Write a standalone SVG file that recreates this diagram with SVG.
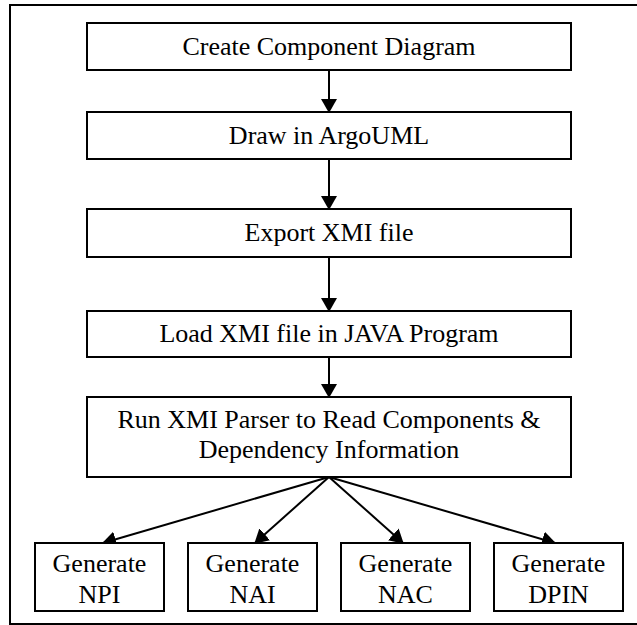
<svg xmlns="http://www.w3.org/2000/svg" width="637" height="625" viewBox="0 0 637 625">
  <style>
    .box { fill: #ffffff; stroke: #000000; stroke-width: 2; }
    .label { font-family: "Liberation Serif", "Times New Roman", serif; font-size: 26px; fill: #000000; text-anchor: middle; }
    .edge { fill: none; stroke: #000000; stroke-width: 2; marker-end: url(#arrow); }
  </style>
  <defs>
    <marker id="arrow" viewBox="0 0 14 16" refX="13" refY="8" markerWidth="14" markerHeight="16" markerUnits="userSpaceOnUse" orient="auto">
      <path d="M0,0 L14,8 L0,16 z" fill="#000000"/>
    </marker>
  </defs>

  <!-- outer frame -->
  <rect id="frame" x="10" y="5" width="640" height="619" fill="#ffffff" stroke="#000000" stroke-width="2"/>

  <!-- connectors -->
  <g id="connectors">
    <line class="edge" x1="329" y1="70" x2="329" y2="112"/>
    <line class="edge" x1="329" y1="159" x2="329" y2="209"/>
    <line class="edge" x1="329" y1="257" x2="329" y2="311"/>
    <line class="edge" x1="329" y1="357" x2="329" y2="397"/>
    <line class="edge" x1="329" y1="477" x2="103" y2="543"/>
    <line class="edge" x1="329" y1="477" x2="255" y2="543"/>
    <line class="edge" x1="329" y1="477" x2="403" y2="543"/>
    <line class="edge" x1="329" y1="477" x2="555" y2="543"/>
  </g>

  <g id="create">
    <rect class="box" x="87" y="23" width="484" height="47"/>
    <text class="label" x="329" y="55">Create Component Diagram</text>
  </g>

  <g id="draw">
    <rect class="box" x="87" y="112" width="484" height="47"/>
    <text class="label" x="329" y="144">Draw in ArgoUML</text>
  </g>

  <g id="export">
    <rect class="box" x="87" y="209" width="484" height="48"/>
    <text class="label" x="329" y="241">Export XMI file</text>
  </g>

  <g id="load">
    <rect class="box" x="87" y="311" width="484" height="46"/>
    <text class="label" x="329" y="342">Load XMI file in JAVA Program</text>
  </g>

  <g id="parse">
    <rect class="box" x="87" y="397" width="484" height="80"/>
    <text class="label" x="329" y="428">Run XMI Parser to Read Components &amp;</text>
    <text class="label" x="329" y="458">Dependency Information</text>
  </g>

  <g id="npi">
    <rect class="box" x="35" y="543" width="129" height="68"/>
    <text class="label" x="99.5" y="572">Generate</text>
    <text class="label" x="99.5" y="603">NPI</text>
  </g>

  <g id="nai">
    <rect class="box" x="188" y="543" width="129" height="68"/>
    <text class="label" x="252.5" y="572">Generate</text>
    <text class="label" x="252.5" y="603">NAI</text>
  </g>

  <g id="nac">
    <rect class="box" x="341" y="543" width="129" height="68"/>
    <text class="label" x="405.5" y="572">Generate</text>
    <text class="label" x="405.5" y="603">NAC</text>
  </g>

  <g id="dpin">
    <rect class="box" x="494" y="543" width="129" height="68"/>
    <text class="label" x="558.5" y="572">Generate</text>
    <text class="label" x="558.5" y="603">DPIN</text>
  </g>
</svg>
